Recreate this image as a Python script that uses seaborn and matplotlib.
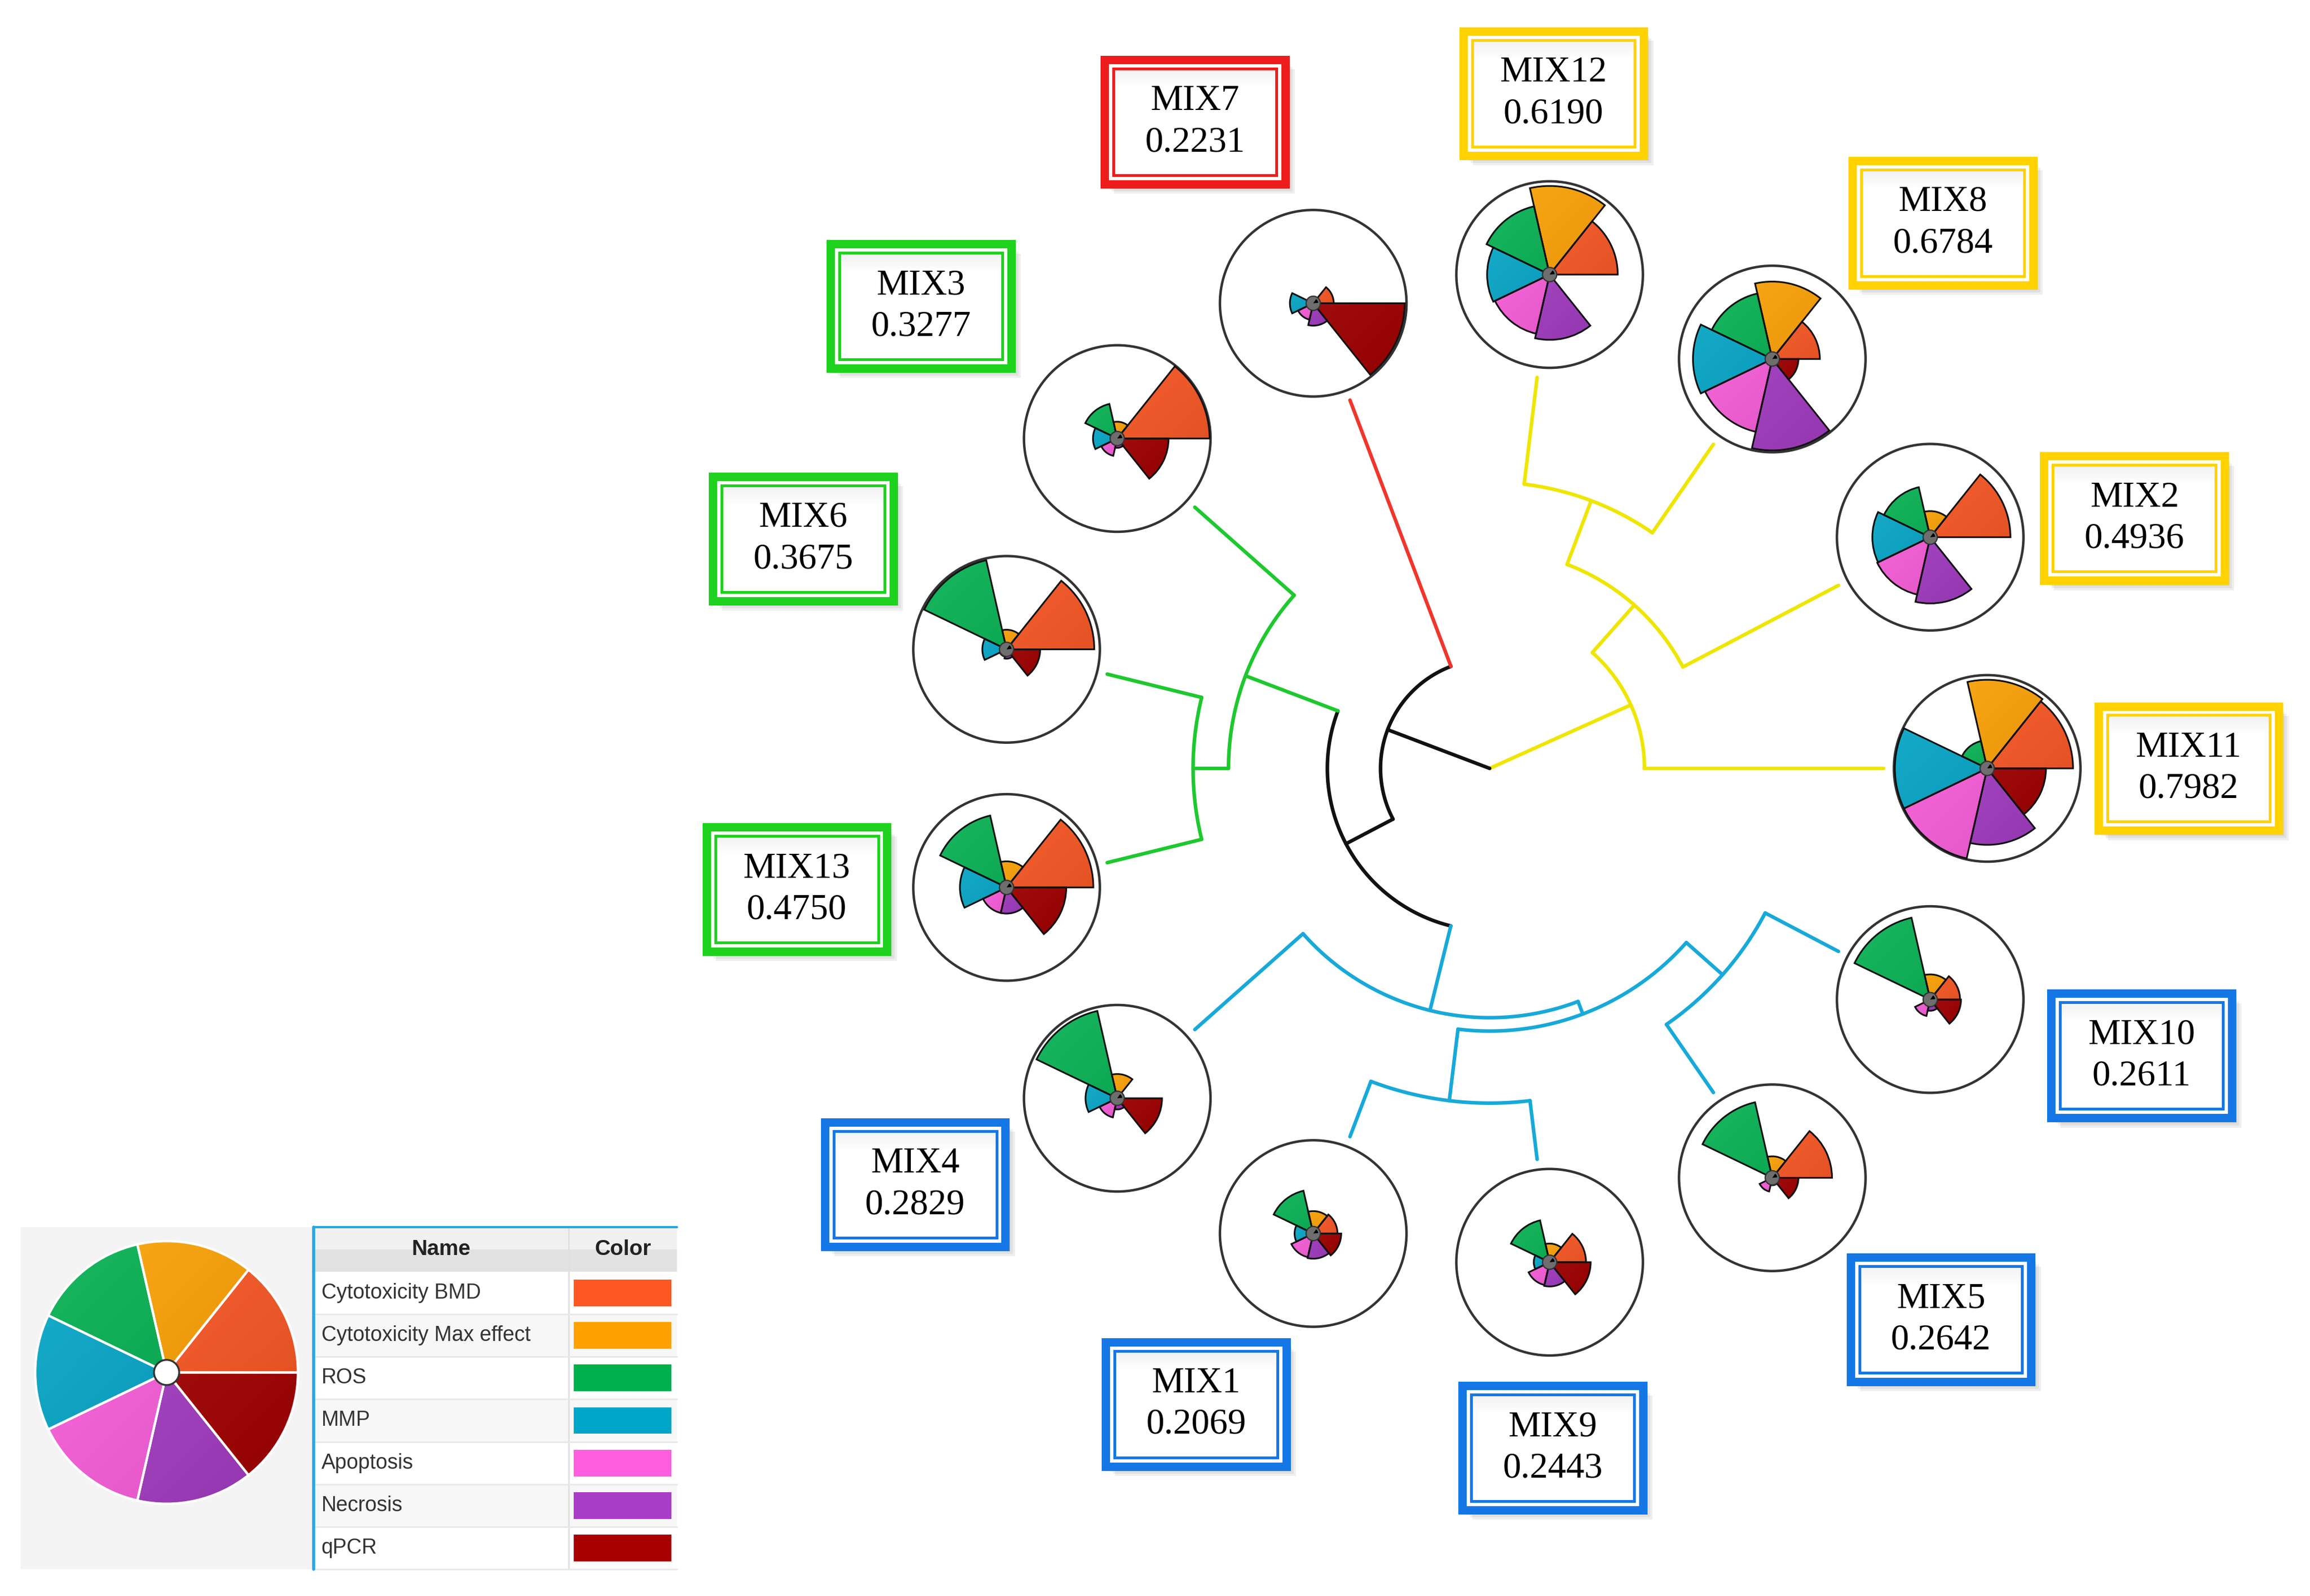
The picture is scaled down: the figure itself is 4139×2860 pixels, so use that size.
import numpy as np
import pandas as pd
import seaborn as sns
import matplotlib.pyplot as plt
from matplotlib.patches import Wedge, Circle, Rectangle
from matplotlib.colors import to_rgb

# ---------------- data ----------------
# leaves in dendrogram order, counter-clockwise starting at 3 o'clock
mixtures = ["MIX11", "MIX2", "MIX8", "MIX12", "MIX7", "MIX3", "MIX6",
            "MIX13", "MIX4", "MIX1", "MIX9", "MIX5", "MIX10"]
scores = ["0.7982", "0.4936", "0.6784", "0.6190", "0.2231", "0.3277", "0.3675",
          "0.4750", "0.2829", "0.2069", "0.2443", "0.2642", "0.2611"]
clusters = ["yellow", "yellow", "yellow", "yellow", "red", "green", "green",
            "green", "blue", "blue", "blue", "blue", "blue"]

slice_names = ["Cytotoxicity BMD", "Cytotoxicity Max effect", "ROS", "MMP",
               "Apoptosis", "Necrosis", "qPCR"]
cyto_bmd = [0.92, 0.86, 0.51, 0.73, 0.22, 0.99, 0.94, 0.93, 0.03, 0.26, 0.39, 0.64, 0.32]
cyto_max = [0.95, 0.28, 0.83, 0.95, 0.05, 0.18, 0.21, 0.28, 0.26, 0.24, 0.20, 0.23, 0.27]
ros = [0.30, 0.55, 0.72, 0.75, 0.04, 0.38, 0.98, 0.79, 0.96, 0.47, 0.46, 0.83, 0.90]
mmp = [0.99, 0.62, 0.85, 0.67, 0.25, 0.26, 0.26, 0.50, 0.34, 0.20, 0.17, 0.03, 0.03]
apoptosis = [0.99, 0.63, 0.80, 0.65, 0.18, 0.19, 0.08, 0.28, 0.21, 0.26, 0.25, 0.15, 0.18]
necrosis = [0.82, 0.71, 0.98, 0.70, 0.24, 0.10, 0.10, 0.28, 0.12, 0.27, 0.26, 0.08, 0.12]
qpcr = [0.63, 0.06, 0.28, 0.03, 0.98, 0.55, 0.36, 0.64, 0.48, 0.30, 0.44, 0.28, 0.33]

# hierarchical clustering merges (n0, n1, ... in this order)
merge_left = ["MIX12", "MIX2", "MIX11", "MIX6", "MIX3", "MIX1", "MIX5", "n5", "MIX4", "n4", "MIX7", "n2"]
merge_right = ["MIX8", "n0", "n1", "MIX13", "n3", "MIX9", "MIX10", "n6", "n7", "n8", "n9", "n10"]
merge_height = [0.273, 0.446, 0.607, 0.247, 0.337, 0.150, 0.210, 0.333, 0.367, 0.588, 0.723, 1.0]

# ---------------- layout / style ----------------
box_angle = [0, 21.2, 50.3, 84.6, 114.5, 140.9, 161.5, 189.9, 215.9, 245.2, 275.3, 309.3, 336.2]
box_radius = [472, 467, 479, 458, 480, 495, 489, 475, 479, 473, 461, 481, 481]

CX, CY = 1006, 519
R_GLYPH = 336
GLYPH_R = 63
R_TIP = 266

slice_colors = sns.color_palette(["#FF5722", "#FFA200", "#00B04F", "#00A6C8",
                                  "#FF5EDF", "#A83DC8", "#A80000"])
line_colors = {"yellow": "#EFE600", "red": "#F0362C", "green": "#1EC82E", "blue": "#17A9D9"}
box_colors = {"yellow": "#FFD200", "red": "#EE1D1D", "green": "#1ED21E", "blue": "#1577E6"}

df = pd.DataFrame({"cluster": clusters, "score": scores, slice_names[0]: cyto_bmd,
                   slice_names[1]: cyto_max, slice_names[2]: ros, slice_names[3]: mmp,
                   slice_names[4]: apoptosis, slice_names[5]: necrosis,
                   slice_names[6]: qpcr}, index=mixtures)

sns.set_style("white")
plt.rcParams['font.family'] = ['Liberation Serif', 'DejaVu Serif']
SANS = ['Liberation Sans Narrow', 'Liberation Sans', 'DejaVu Sans']

fig = plt.figure(figsize=(4139 / 200, 2860 / 200), dpi=200)
ax = fig.add_axes([0, 0, 1, 1])
ax.set_xlim(0, 1560)
ax.set_ylim(1078, 0)
ax.axis('off')


def pol(r, deg):
    t = np.deg2rad(deg)
    return CX + r * np.cos(t), CY - r * np.sin(t)


# diagonal shading (light top-left -> dark bottom-right) clipped to a wedge
uu, vv = np.meshgrid(np.linspace(0, 1, 64), np.linspace(0, 1, 64))
shade_t = ((uu + vv) / 2)[..., None]


def shaded_wedge(center, r, t1, t2, color, z, ec='#111111', lw=1.1):
    c = np.array(to_rgb(color))
    light = c + (1 - c) * 0.10
    dark = c * 0.86
    img = light * (1 - shade_t) + dark * shade_t
    w = Wedge(center, r, t1, t2, fc='none', ec=ec, lw=lw, zorder=z + 0.1)
    ax.add_patch(w)
    x, y = center
    im = ax.imshow(img, extent=(x - r, x + r, y + r, y - r), origin='upper',
                   interpolation='bilinear', aspect='auto', zorder=z)
    im.set_clip_path(w)


# ---------------- dendrogram ----------------
angle = {m: i * 360 / len(mixtures) for i, m in enumerate(mixtures)}
radius = {m: R_TIP for m in mixtures}
members = {m: [m] for m in mixtures}
top = max(merge_height)
for i, (l, r, h) in enumerate(zip(merge_left, merge_right, merge_height)):
    n = "n%d" % i
    angle[n] = (angle[l] + angle[r]) / 2
    radius[n] = R_TIP * (1 - h / top)
    members[n] = members[l] + members[r]


def node_color(n):
    cl = set(df.loc[members[n], "cluster"])
    return line_colors[cl.pop()] if len(cl) == 1 else "#111111"


for i, (l, r) in enumerate(zip(merge_left, merge_right)):
    n = "n%d" % i
    th = np.linspace(angle[l], angle[r], 100)
    xs, ys = pol(radius[n], th)
    ax.plot(xs, ys, color=node_color(n), lw=2.3, zorder=2, solid_capstyle='round')
    for c in (l, r):
        xs, ys = pol(np.array([radius[n], radius[c]]), angle[c])
        ax.plot(xs, ys, color=node_color(c), lw=2.3, zorder=2, solid_capstyle='round')

# ---------------- ToxPi glyphs ----------------
n_sl = len(slice_names)
for m in mixtures:
    x, y = pol(R_GLYPH, angle[m])
    ax.add_patch(Circle((x, y), GLYPH_R, fc='white', ec='#333333', lw=1.6, zorder=5))
    for k, s in enumerate(slice_names):
        a1, a2 = k * 360 / n_sl, (k + 1) * 360 / n_sl
        shaded_wedge((x, y), df.loc[m, s] * GLYPH_R, -a2, -a1, slice_colors[k], 6)
    ax.add_patch(Circle((x, y), 4.8, fc='#6E6E6E', ec='#333333', lw=0.8, zorder=7))
    ax.add_patch(Wedge((x, y), 3.4, -55, -5, fc='black', ec='none', zorder=8))

# ---------------- label boxes ----------------
bw, bh = 122, 84
for m, a, rr in zip(mixtures, box_angle, box_radius):
    x, y = pol(rr, a)
    col = box_colors[df.loc[m, "cluster"]]
    for k in range(4):
        off = 2 + 1.5 * k
        ax.add_patch(Rectangle((x - bw / 2 + off, y - bh / 2 + off), bw, bh,
                               fc='#555555', ec='none', alpha=0.09, zorder=8))
    ax.add_patch(Rectangle((x - bw / 2, y - bh / 2), bw, bh, fc='white',
                           ec=col, lw=5.4, zorder=9))
    for k in range(8):
        ax.add_patch(Rectangle((x - bw / 2 + 6, y - bh / 2 + 6 + k * 1.5), bw - 12, 1.5,
                               fc='#888888', ec='none', alpha=0.11 * (1 - k / 8), zorder=9))
    ax.add_patch(Rectangle((x - bw / 2 + 6, y - bh / 2 + 6), bw - 12, bh - 12,
                           fc='none', ec=col, lw=1.8, zorder=10))
    ax.text(x, y - 14, m, ha='center', va='center', fontsize=23.5, color='black', zorder=11)
    ax.text(x, y + 14, df.loc[m, "score"], ha='center', va='center', fontsize=23.5,
            color='black', zorder=11)

# ---------------- legend ----------------
ax.add_patch(Rectangle((14, 829), 198, 231, fc='#F4F4F4', ec='none', zorder=1))
pcx, pcy, pr = 112.5, 927, 88.7
for k in range(n_sl):
    a1, a2 = k * 360 / n_sl, (k + 1) * 360 / n_sl
    shaded_wedge((pcx, pcy), pr, -a2, -a1, slice_colors[k], 3, ec='white', lw=1.5)
ax.add_patch(Circle((pcx, pcy), 8.5, fc='white', ec='#333333', lw=1.2, zorder=4))

tx0, tx1, tdiv = 212, 457, 384
head_top, head_h, row_h = 829, 30, 28.7
ax.add_patch(Rectangle((tx0, head_top), tx1 - tx0, head_h, fc='#E2E2E2', ec='none', zorder=2))
ax.add_patch(Rectangle((tx0, head_top), tx1 - tx0, head_h / 2, fc='#F0F0F0', ec='none', zorder=2))
ax.plot([tdiv, tdiv], [head_top, head_top + head_h + 7 * row_h], color='#E0E0E0', lw=1, zorder=3)
ax.text((tx0 + tdiv) / 2, head_top + head_h / 2, "Name", ha='center', va='center',
        fontsize=14, fontweight='bold', family=SANS, color='#222222', zorder=4)
ax.text((tdiv + tx1) / 2, head_top + head_h / 2, "Color", ha='center', va='center',
        fontsize=14, fontweight='bold', family=SANS, color='#222222', zorder=4)
for k, s in enumerate(slice_names):
    y0 = head_top + head_h + k * row_h
    ax.add_patch(Rectangle((tx0, y0), tx1 - tx0, row_h, fc='white' if k % 2 == 0 else '#F7F7F7',
                           ec='none', zorder=2))
    ax.plot([tx0, tx1], [y0 + row_h, y0 + row_h], color='#E8E8E8', lw=1, zorder=3)
    ax.text(tx0 + 5, y0 + row_h / 2, s, ha='left', va='center', fontsize=13.5,
            family=SANS, color='#333333', zorder=4)
    ax.add_patch(Rectangle((387.5, y0 + row_h / 2 - 9), 66, 18, fc=slice_colors[k], ec='none', zorder=4))
ax.plot([tx0, tx0], [head_top, head_top + head_h + 7 * row_h], color='#2AA7DE', lw=2, zorder=5)
ax.plot([tx0, tx1], [head_top, head_top], color='#2AA7DE', lw=1.5, zorder=5)

fig.savefig("out.png", dpi=200, facecolor='white')
